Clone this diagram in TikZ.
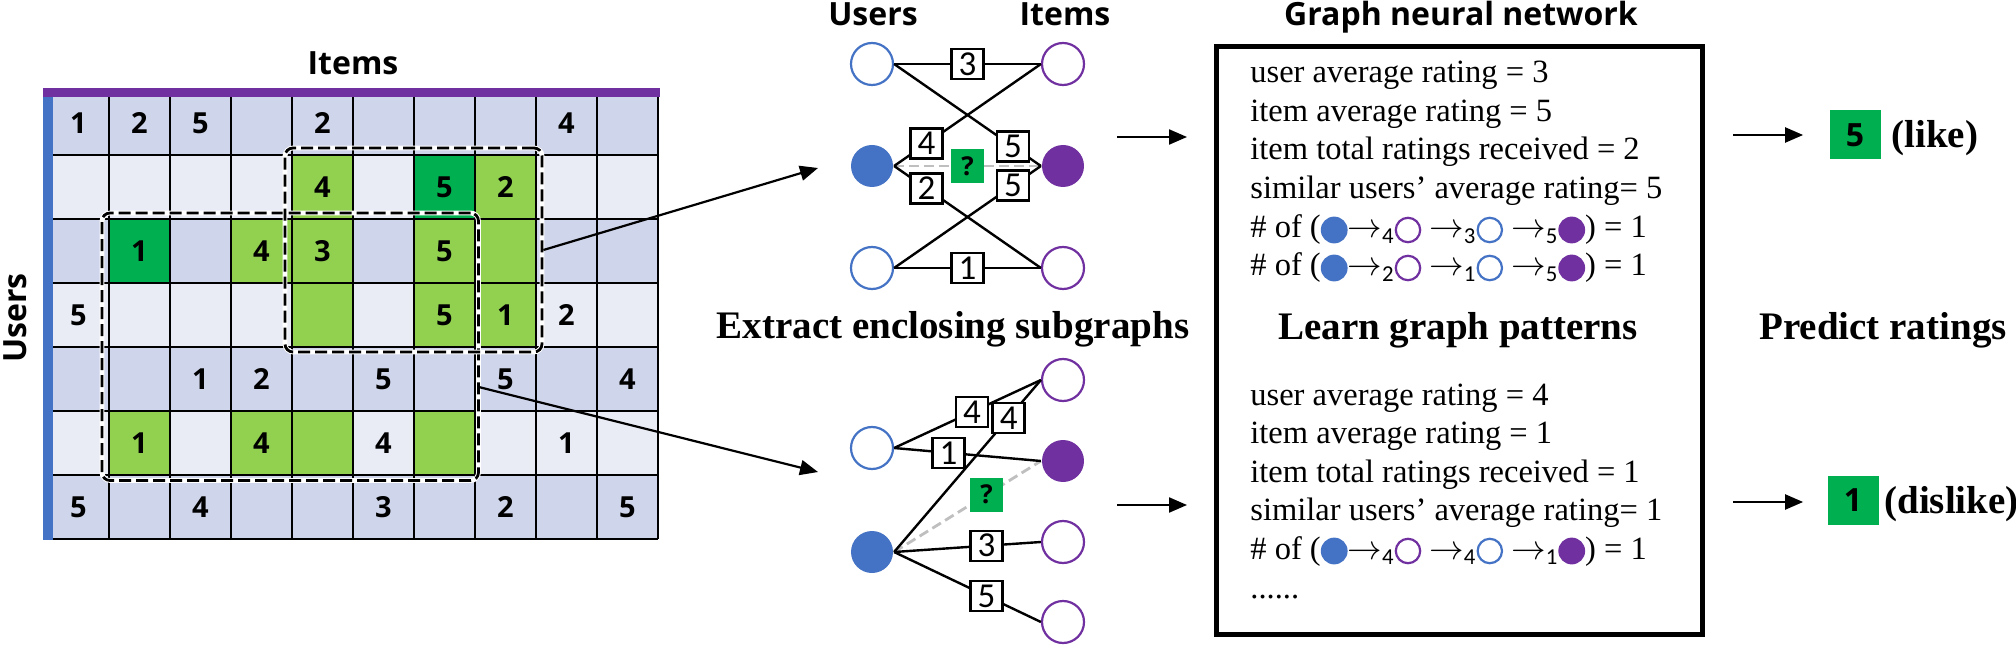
\documentclass[tikz,border=0pt]{standalone}
\usepackage{fontspec}
\setmainfont{Liberation Serif}
\newfontfamily\osans{Open Sans}
\newfontfamily\carl{Carlito}
\usetikzlibrary{arrows.meta,calc}
\definecolor{ublue}{HTML}{4472C4}
\definecolor{upurple}{HTML}{7030A0}
\definecolor{lgreen}{HTML}{92D050}
\definecolor{dgreen}{HTML}{00B050}
\definecolor{rowdark}{HTML}{CFD5EA}
\definecolor{rowlight}{HTML}{E9EBF5}
\definecolor{qgray}{HTML}{BFBFBF}
\newcommand\myFB{\tikz[baseline=-4pt]\fill[ublue] (0,0) circle (6.7pt);}
\newcommand\myFP{\tikz[baseline=-4pt]\fill[upurple] (0,0) circle (6.7pt);}
\newcommand\myRB{\tikz[baseline=-4pt]\draw[ublue,line width=1.1pt] (0,0) circle (6.1pt);}
\newcommand\myRP{\tikz[baseline=-4pt]\draw[upurple,line width=1.1pt] (0,0) circle (6.1pt);}
\newcommand\mySub[1]{\textsubscript{\carl #1}}
\begin{document}
\begin{tikzpicture}[x=0.5pt,y=-0.5pt,
  gdig/.style={font=\osans\bfseries\fontsize{14.5}{14.5}\selectfont, inner sep=0},
  shdr/.style={font=\osans\bfseries\fontsize{16}{16}\selectfont, inner sep=0, anchor=base},
  bhdr/.style={font=\bfseries\fontsize{19.5}{20}\selectfont, inner sep=0, anchor=base},
  boxtxt/.style={anchor=base west, inner sep=0, font=\fontsize{16.25}{19}\selectfont},
  dashbox/.style={draw=black, line width=1.4pt, dash pattern=on 6pt off 2.5pt, rounded corners=4pt,
     preaction={draw=white, solid, line width=2.4pt}, inner sep=0},
  unode/.style={circle, minimum size=21pt, inner sep=0, line width=1.1pt},
  ur/.style={unode, draw=ublue, fill=white},
  ir/.style={unode, draw=upurple, fill=white},
  uf/.style={unode, fill=ublue},
  iff/.style={unode, fill=upurple},
  elab/.style={draw, fill=white, line width=1.2pt, inner sep=0, minimum width=16pt, minimum height=15pt,
     font=\carl\fontsize{17.5}{17.5}\selectfont},
  qbox/.style={fill=dgreen, minimum width=16.5pt, minimum height=17pt, inner sep=0,
     font=\osans\bfseries\fontsize{13}{13}\selectfont},
  edg/.style={line width=1.2pt},
  qedge/.style={draw=qgray, line width=1.4pt, dash pattern=on 5pt off 2.5pt},
  arr/.style={-{Triangle[length=9pt,width=7.5pt]}, line width=1.1pt},
  res/.style={fill=dgreen, minimum width=25.5pt, minimum height=24.5pt, inner sep=0,
     font=\osans\bfseries\fontsize{16}{16}\selectfont}
]
\useasboundingbox (0,0) rectangle (2016,646);
% ---------------- rating matrix ----------------
\foreach \r in {1,3,5,7} \fill[rowdark] (48,{91+64*(\r-1)}) rectangle ++(610,64);
\foreach \r in {2,4,6} \fill[rowlight] (48,{91+64*(\r-1)}) rectangle ++(610,64);
\foreach \r/\c in {2/5,2/8,3/4,3/5,3/7,3/8,4/5,4/7,4/8,6/2,6/4,6/5,6/7}
  \fill[lgreen] ({48+61*(\c-1)},{91+64*(\r-1)}) rectangle ++(61,64);
\foreach \r/\c in {2/7,3/2}
  \fill[dgreen] ({48+61*(\c-1)},{91+64*(\r-1)}) rectangle ++(61,64);
\foreach \k in {0,...,10} \draw[line width=1.35pt] ({48+61*\k},91) -- ({48+61*\k},539);
\foreach \k in {0,...,7} \draw[line width=1.35pt] (48,{91+64*\k}) -- (658,{91+64*\k});
\foreach \r/\c/\d in {1/1/1,1/2/2,1/3/5,1/5/2,1/9/4,
   2/5/4,2/7/5,2/8/2,
   3/2/1,3/4/4,3/5/3,3/7/5,
   4/1/5,4/7/5,4/8/1,4/9/2,
   5/3/1,5/4/2,5/6/5,5/8/5,5/10/4,
   6/2/1,6/4/4,6/6/4,6/9/1,
   7/1/5,7/3/4,7/6/3,7/8/2,7/10/5}
  \node[gdig] (g-\r-\c) at ({48+61*\c-30.5},{91+64*\r-32}) {\d};
\fill[upurple] (43,88) rectangle (660,97);
\fill[ublue] (43,97) rectangle (53,540);
\node[shdr] (itemsL) at (353,75) {Items};
\node[shdr, rotate=90] (usersL) at (26,318) {Users};
% enclosing subgraph boxes
\node[dashbox, minimum width=188.25pt, minimum height=133.75pt] (rB) at (290.25,346.75) {};
\node[dashbox, minimum width=128.5pt, minimum height=102pt] (rA) at (413.5,250) {};
% arrows to subgraphs
\coordinate (a1e) at (818,168);
\coordinate (a2e) at (818,472);
\draw[arr] (rA.east) -- (a1e);
\draw[arr] ($(rB.north east)!0.65!(rB.south east)$) -- (a2e);
% ---------------- upper subgraph ----------------
\node[shdr] (usersT) at (873,26) {Users};
\node[shdr] (itemsT) at (1065,26) {Items};
\node[ur] (UL) at (872,64) {};
\node[ir] (UR) at (1063,64) {};
\node[uf] (ML) at (872,166) {};
\node[iff] (MR) at (1063,166) {};
\node[ur] (BL) at (872,268) {};
\node[ir] (BR) at (1063,268) {};
\draw[qedge] (ML.east) -- node[qbox, pos=0.5] (q1) {?} (MR.west);
\draw[edg] (UL.east) -- node[elab, pos=0.5] (e1) {3} (UR.west);
\draw[edg] (UL.east) -- node[elab, pos=0.81] (e2) {5} (MR.west);
\draw[edg] (ML.east) -- node[elab, pos=0.22] (e3) {4} (UR.west);
\draw[edg] (ML.east) -- node[elab, pos=0.22] (e4) {2} (BR.west);
\draw[edg] (BL.east) -- node[elab, pos=0.81] (e5) {5} (MR.west);
\draw[edg] (BL.east) -- node[elab, pos=0.5] (e6) {1} (BR.west);
\node[bhdr] (extract) at (953,339) {Extract enclosing subgraphs};
% ---------------- lower subgraph ----------------
\node[ur] (L1) at (872,448) {};
\node[uf] (L2) at (872,552) {};
\node[ir] (R1) at (1063,380) {};
\node[iff] (R2) at (1063,461) {};
\node[ir] (R3) at (1063,542) {};
\node[ir] (R4) at (1063,622) {};
\draw[qedge] (L2.east) -- node[qbox, pos=0.63] (q2) {?} (R2.west);
\draw[edg] (L1.east) -- node[elab, pos=0.53] (f1) {4} (R1.west);
\draw[edg] (L1.east) -- node[elab, pos=0.37] (f3) {1} (R2.west);
\draw[edg] (L2.east) -- node[elab, pos=0.78] (f2) {4} (R1.west);
\draw[edg] (L2.east) -- node[elab, pos=0.63] (f4) {3} (R3.west);
\draw[edg] (L2.east) -- node[elab, pos=0.63] (f5) {5} (R4.west);
% arrows into GNN
\coordinate (b1s) at (1117,137); \coordinate (b1e) at (1187,137);
\coordinate (b2s) at (1117,505); \coordinate (b2e) at (1187,505);
\draw[arr] (b1s) -- (b1e);
\draw[arr] (b2s) -- (b2e);
% ---------------- GNN box ----------------
\node[shdr] (gnnT) at (1461,26) {Graph neural network};
\node[draw, line width=2.5pt, minimum width=243pt, minimum height=293.5pt, inner sep=0] (gnn) at (1459,340.5) {};
\node[boxtxt] (t1) at (1250,83) {user average rating = 3};
\node[boxtxt] (t2) at (1250,122) {item average rating = 5};
\node[boxtxt] (t3) at (1250,160) {item total ratings received = 2};
\node[boxtxt] (t4) at (1250,199) {similar users’ average rating= 5};
\node[boxtxt] (t5) at (1250,238) {\# of (\myFB$\rightarrow$\mySub{4}\myRP\ $\rightarrow$\mySub{3}\myRB\ $\rightarrow$\mySub{5}\myFP) = 1};
\node[boxtxt] (t6) at (1250,276) {\# of (\myFB$\rightarrow$\mySub{2}\myRP\ $\rightarrow$\mySub{1}\myRB\ $\rightarrow$\mySub{5}\myFP) = 1};
\node[bhdr] (learn) at (1458,340) {Learn graph patterns};
\node[boxtxt] (s1) at (1250,405) {user average rating = 4};
\node[boxtxt] (s2) at (1250,443) {item average rating = 1};
\node[boxtxt] (s3) at (1250,482) {item total ratings received = 1};
\node[boxtxt] (s4) at (1250,520) {similar users’ average rating= 1};
\node[boxtxt] (s5) at (1250,559) {\# of (\myFB$\rightarrow$\mySub{4}\myRP\ $\rightarrow$\mySub{4}\myRB\ $\rightarrow$\mySub{1}\myFP) = 1};
\node[boxtxt] (s6) at (1250,598) {......};
% ---------------- predictions ----------------
\node[res] (p5) at (1855,135) {5};
\node[res] (p1) at (1853,500) {1};
\coordinate (o1s) at (1733,135); \coordinate (o2s) at (1733,502);
\draw[arr] (o1s) -- ([xshift=-13pt]p5.west);
\draw[arr] (o2s) -- ([xshift=-12pt,yshift=-1pt]p1.west);
\node[bhdr, anchor=base west] (like) at (1891,148) {(like)};
\node[bhdr, anchor=base west] (dislike) at (1884,513) {(dislike)};
\node[bhdr] (predict) at (1883,340) {Predict ratings};
\end{tikzpicture}
\end{document}
